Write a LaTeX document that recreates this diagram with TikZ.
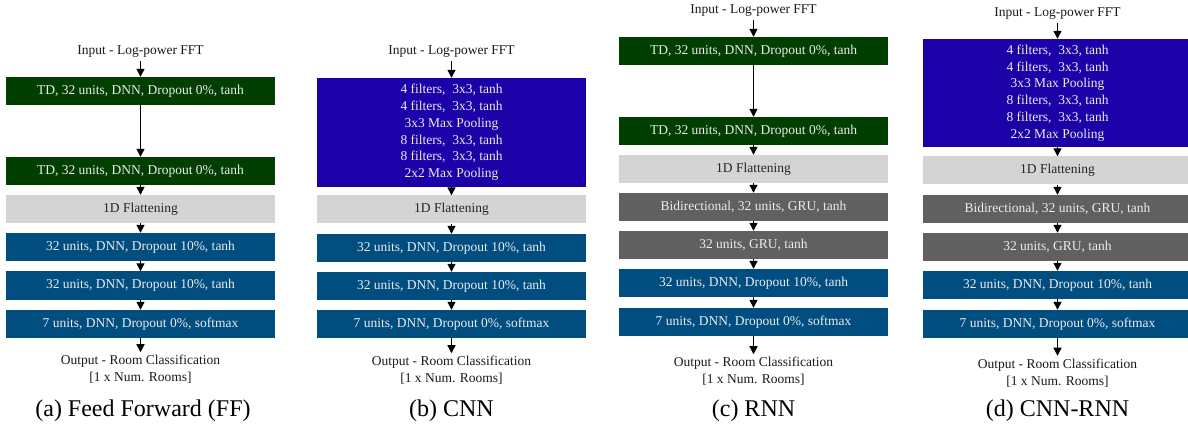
\documentclass[tikz,border=0pt]{standalone}
\usepackage{fontspec}
\setmainfont{Liberation Serif}
\usetikzlibrary{arrows.meta}
\definecolor{tdgreen}{HTML}{003F00}
\definecolor{dnnblue}{HTML}{004D80}
\definecolor{cnnblue}{HTML}{1C00A8}
\definecolor{flatgray}{HTML}{D4D4D4}
\definecolor{grugray}{HTML}{606060}
\definecolor{boxtxt}{HTML}{ECECEC}
\newcommand\boxfnt{\fontsize{13.5}{16.8}\selectfont}
\newcommand\capfnt{\fontsize{24}{28}\selectfont}
\tikzset{
  lay/.style={minimum width=269pt, minimum height=28pt, inner sep=0pt, font=\boxfnt, text=boxtxt},
  td/.style={lay, fill=tdgreen},
  dnn/.style={lay, fill=dnnblue},
  flat/.style={lay, fill=flatgray, text=black!85},
  gru/.style={lay, fill=grugray},
  cnn/.style={lay, fill=cnnblue, align=center},
  lbl/.style={font=\boxfnt, align=center, inner sep=0pt, text=black!90},
  subcap/.style={font=\capfnt, inner sep=0pt},
  arr/.style={-{Triangle[width=8pt,length=8pt]}, line width=1.3pt}
}
\begin{document}
\begin{tikzpicture}[x=1pt,y=-1pt]
\useasboundingbox (0,0) rectangle (1188,430);
% ---------- (a) ----------
\node[lbl] (inA) at (140.5,52) {Input - Log-power FFT};
\node[td] (a1) at (140.5,91) {TD, 32 units, DNN, Dropout 0\%, tanh};
\node[td] (a2) at (140.5,171) {TD, 32 units, DNN, Dropout 0\%, tanh};
\node[flat] (a3) at (140.5,209) {1D Flattening};
\node[dnn] (a4) at (140.5,247) {32 units, DNN, Dropout 10\%, tanh};
\node[dnn] (a5) at (140.5,285.5) {32 units, DNN, Dropout 10\%, tanh};
\node[dnn] (a6) at (140.5,324) {7 units, DNN, Dropout 0\%, softmax};
\node[lbl] (outA) at (140.5,369.5) {Output - Room Classification\\{}[1 x Num. Rooms]};
\node[subcap] (capA) at (143,411) {(a) Feed Forward (FF)};
\draw[arr] ([yshift=-3pt]inA.south) -- (a1);
\draw[arr] (a1) -- (a2);
\draw[arr] (a2) -- (a3);
\draw[arr] (a3) -- (a4);
\draw[arr] (a4) -- (a5);
\draw[arr] (a5) -- (a6);
\draw[arr] (a6) -- ([yshift=3pt]outA.north);
% ---------- (b) ----------
\node[lbl] (inB) at (451.5,52) {Input - Log-power FFT};
\node[cnn, minimum height=109pt] (b1) at (451.5,132.5) {4 filters,~~3x3, tanh\\4 filters,~~3x3, tanh\\3x3 Max Pooling\\8 filters,~~3x3, tanh\\8 filters,~~3x3, tanh\\2x2 Max Pooling};
\node[flat] (b2) at (451.5,209.5) {1D Flattening};
\node[dnn] (b3) at (451.5,248) {32 units, DNN, Dropout 10\%, tanh};
\node[dnn] (b4) at (451.5,286) {32 units, DNN, Dropout 10\%, tanh};
\node[dnn] (b5) at (451.5,324) {7 units, DNN, Dropout 0\%, softmax};
\node[lbl] (outB) at (451.5,370.5) {Output - Room Classification\\{}[1 x Num. Rooms]};
\node[subcap] (capB) at (451.5,411) {(b) CNN};
\draw[arr] ([yshift=-3pt]inB.south) -- (b1);
\draw[arr] (b1) -- (b2);
\draw[arr] (b2) -- (b3);
\draw[arr] (b3) -- (b4);
\draw[arr] (b4) -- (b5);
\draw[arr] (b5) -- ([yshift=3pt]outB.north);
% ---------- (c) ----------
\node[lbl] (inC) at (753.5,11) {Input - Log-power FFT};
\node[td] (c1) at (753.5,51) {TD, 32 units, DNN, Dropout 0\%, tanh};
\node[td] (c2) at (753.5,131) {TD, 32 units, DNN, Dropout 0\%, tanh};
\node[flat] (c3) at (753.5,169) {1D Flattening};
\node[gru] (c4) at (753.5,207) {Bidirectional, 32 units, GRU, tanh};
\node[gru] (c5) at (753.5,245) {32 units, GRU, tanh};
\node[dnn] (c6) at (753.5,283) {32 units, DNN, Dropout 10\%, tanh};
\node[dnn] (c7) at (753.5,322) {7 units, DNN, Dropout 0\%, softmax};
\node[lbl] (outC) at (753.5,371.5) {Output - Room Classification\\{}[1 x Num. Rooms]};
\node[subcap] (capC) at (753.5,411) {(c) RNN};
\draw[arr] ([yshift=-3pt]inC.south) -- (c1);
\draw[arr] (c1) -- (c2);
\draw[arr] (c2) -- (c3);
\draw[arr] (c3) -- (c4);
\draw[arr] (c4) -- (c5);
\draw[arr] (c5) -- (c6);
\draw[arr] (c6) -- (c7);
\draw[arr] (c7) -- ([yshift=3pt]outC.north);
% ---------- (d) ----------
\node[lbl] (inD) at (1057.5,14) {Input - Log-power FFT};
\node[cnn, minimum height=108pt] (d1) at (1057.5,93) {4 filters,~~3x3, tanh\\4 filters,~~3x3, tanh\\3x3 Max Pooling\\8 filters,~~3x3, tanh\\8 filters,~~3x3, tanh\\2x2 Max Pooling};
\node[flat] (d2) at (1057.5,170.5) {1D Flattening};
\node[gru] (d3) at (1057.5,209) {Bidirectional, 32 units, GRU, tanh};
\node[gru] (d4) at (1057.5,247) {32 units, GRU, tanh};
\node[dnn] (d5) at (1057.5,285) {32 units, DNN, Dropout 10\%, tanh};
\node[dnn] (d6) at (1057.5,324) {7 units, DNN, Dropout 0\%, softmax};
\node[lbl] (outD) at (1057.5,373) {Output - Room Classification\\{}[1 x Num. Rooms]};
\node[subcap] (capD) at (1057.5,411) {(d) CNN-RNN};
\draw[arr] ([yshift=-3pt]inD.south) -- (d1);
\draw[arr] (d1) -- (d2);
\draw[arr] (d2) -- (d3);
\draw[arr] (d3) -- (d4);
\draw[arr] (d4) -- (d5);
\draw[arr] (d5) -- (d6);
\draw[arr] (d6) -- ([yshift=3pt]outD.north);
\end{tikzpicture}
\end{document}
